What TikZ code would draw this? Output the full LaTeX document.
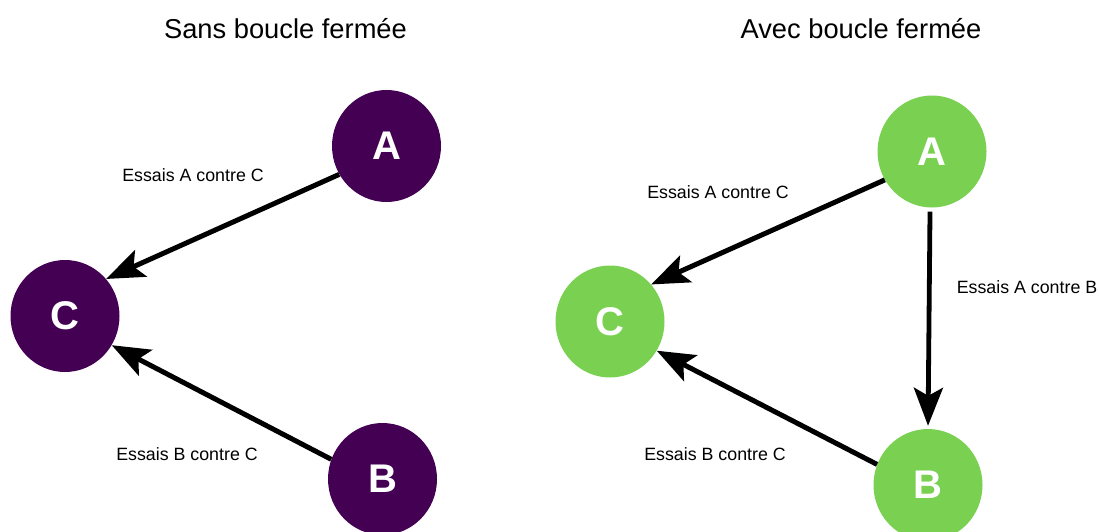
\documentclass[tikz,border=0pt]{standalone}
\usepackage{fontspec}
\setmainfont{Liberation Sans}
\usetikzlibrary{arrows.meta,shapes.geometric}
\definecolor{vpurple}{HTML}{440154}
\definecolor{vgreen}{HTML}{7AD151}
\begin{document}
\begin{tikzpicture}[x=1pt,y=-1pt,
  vnode/.style={ellipse,minimum width=109pt,minimum height=112pt,inner sep=0pt,
    text=white,font=\fontsize{40}{40}\selectfont\bfseries},
  lbl/.style={font=\fontsize{17.8}{20}\selectfont,inner sep=0pt,anchor=base},
  ttl/.style={font=\fontsize{27.3}{30}\selectfont,inner sep=0pt,anchor=base},
  conn/.style={line width=5pt,-{Stealth[length=38pt,width=29pt,inset=8pt]}}
]
\path[use as bounding box] (0,0) rectangle (1099,532);

% titles
\node[ttl] (t1) at (285.5,39) {Sans boucle fermée};
\node[ttl] (t2) at (861,39) {Avec boucle fermée};

% left graph
\node[vnode,fill=vpurple] (AL) at (386.5,146) {A};
\node[vnode,fill=vpurple] (CL) at (65,316) {C};
\node[vnode,fill=vpurple] (BL) at (382.5,479) {B};
\draw[conn] (AL.211.7) -- (CL.42.9);
\draw[conn] (BL.159.8) -- (CL.-32.9);
\node[lbl] (l1) at (193,181) {Essais A contre C};
\node[lbl] (l2) at (187,460) {Essais B contre C};

% right graph
\node[vnode,fill=vgreen] (AR) at (932,151.5) {A};
\node[vnode,fill=vgreen] (CR) at (610,321.5) {C};
\node[vnode,fill=vgreen] (BR) at (928,485) {B};
\draw[conn] (AR.211.9) -- (CR.42.5);
\draw[conn,line width=4.8pt,shorten <=4pt,shorten >=3pt] (AR.-92) -- (BR.90);
\draw[conn] (BR.158.6) -- (CR.-32.4);
\node[lbl] (r1) at (718,198) {Essais A contre C};
\node[lbl] (r2) at (715,460) {Essais B contre C};
\node[lbl] (r3) at (1027,293) {Essais A contre B};
\end{tikzpicture}
\end{document}
